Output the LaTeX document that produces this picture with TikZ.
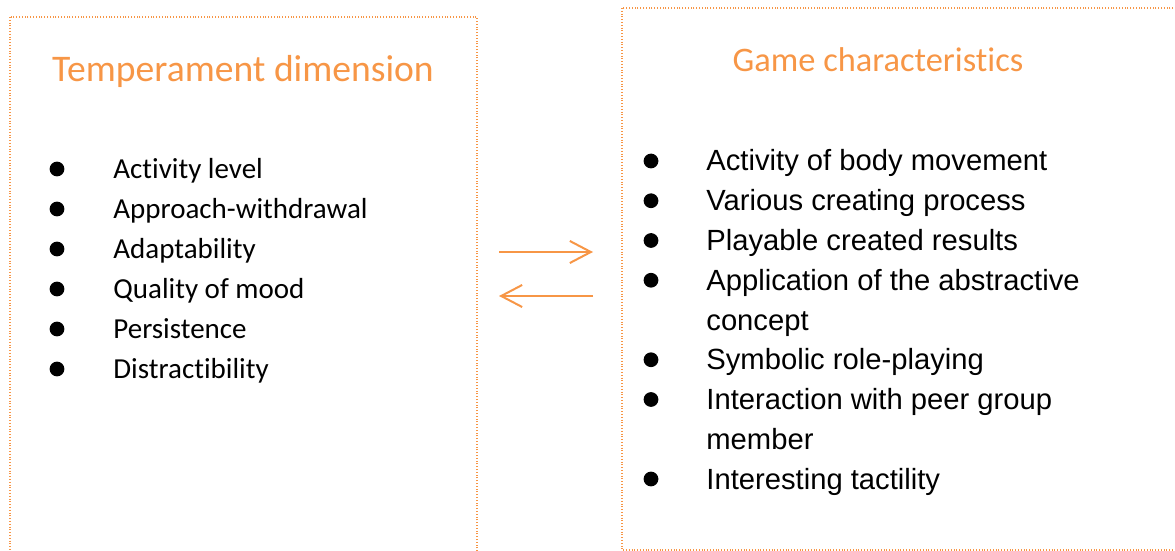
\documentclass[tikz,border=0pt]{standalone}
\usepackage{fontspec}
\setmainfont[Ligatures={NoCommon,NoContextual}, RawFeature={-calt}]{Carlito}
\newfontfamily\arialfont{Liberation Sans}
\usepackage{tikz}
\usetikzlibrary{arrows.meta}
\usetikzlibrary{positioning}
\definecolor{tangerine}{RGB}{247, 150, 70}

\begin{document}
\begin{tikzpicture}[x=0.5pt, y=-0.5pt,
        panel/.style={draw=tangerine, line width=0.55pt, dash pattern=on 0.55pt off 0.85pt},
        heading/.style={text=tangerine, anchor=base, inner sep=0pt},
        dot/.style={circle, fill=black, inner sep=0pt, minimum size=7.4pt},
        litem/.style={anchor=base west, inner sep=0pt, font=\fontsize{14.5}{20}\selectfont},
        ritem/.style={anchor=base west, inner sep=0pt, font=\arialfont\fontsize{14.6}{20}\selectfont},
        swap/.style={draw=tangerine, line width=1pt, -{Straight Barb[length=10.5pt, width=11pt]}}]
            \useasboundingbox                                    (0, 0) rectangle (1175, 551);
            \draw[panel]                                        (10, 17) rectangle (477, 570);
            \draw[panel]                                       (622,  8) rectangle (1190, 550);
            % headings
            \node[heading, font=\fontsize{18.8}{22}\selectfont] (ltitle) at (243, 82) {Temperament dimension};
            \node[heading, font=\fontsize{17.2}{21}\selectfont] (rtitle) at (878, 72) {Game characteristics};
            % temperament list
            \foreach \i/\txt in {0/Activity level, 1/Approach-withdrawal, 2/Adaptability,
                                 3/Quality of mood, 4/Persistence, 5/Distractibility}{
                \node[dot]   (lb\i) at ( 57, 169+40*\i) {};
                \node[litem] (l\i)  at (113, 179+40*\i) {\txt};
            }
            % game list, one node per printed line
            \foreach \i/\txt in {0/Activity of body movement, 1/Various creating process,
                                 2/Playable created results, 3/Application of the abstractive,
                                 4/concept, 5/Symbolic role-playing, 6/Interaction with peer group,
                                 7/member, 8/Interesting tactility}{
                \node[ritem] (r\i)  at (706, 171+39.75*\i) {\txt};
            }
            \foreach \i in {0,1,2,3,5,6,8}{
                \node[dot]   (rb\i) at (651, 161+39.75*\i) {};
            }
            % two-way link
            \coordinate (fwdA) at (499, 252);
            \coordinate (fwdB) at (593, 252);
            \coordinate (bckA) at (593, 296);
            \coordinate (bckB) at (499, 296);
            \draw[swap] (fwdA) -- (fwdB);
            \draw[swap] (bckA) -- (bckB);
\end{tikzpicture}
\end{document}
